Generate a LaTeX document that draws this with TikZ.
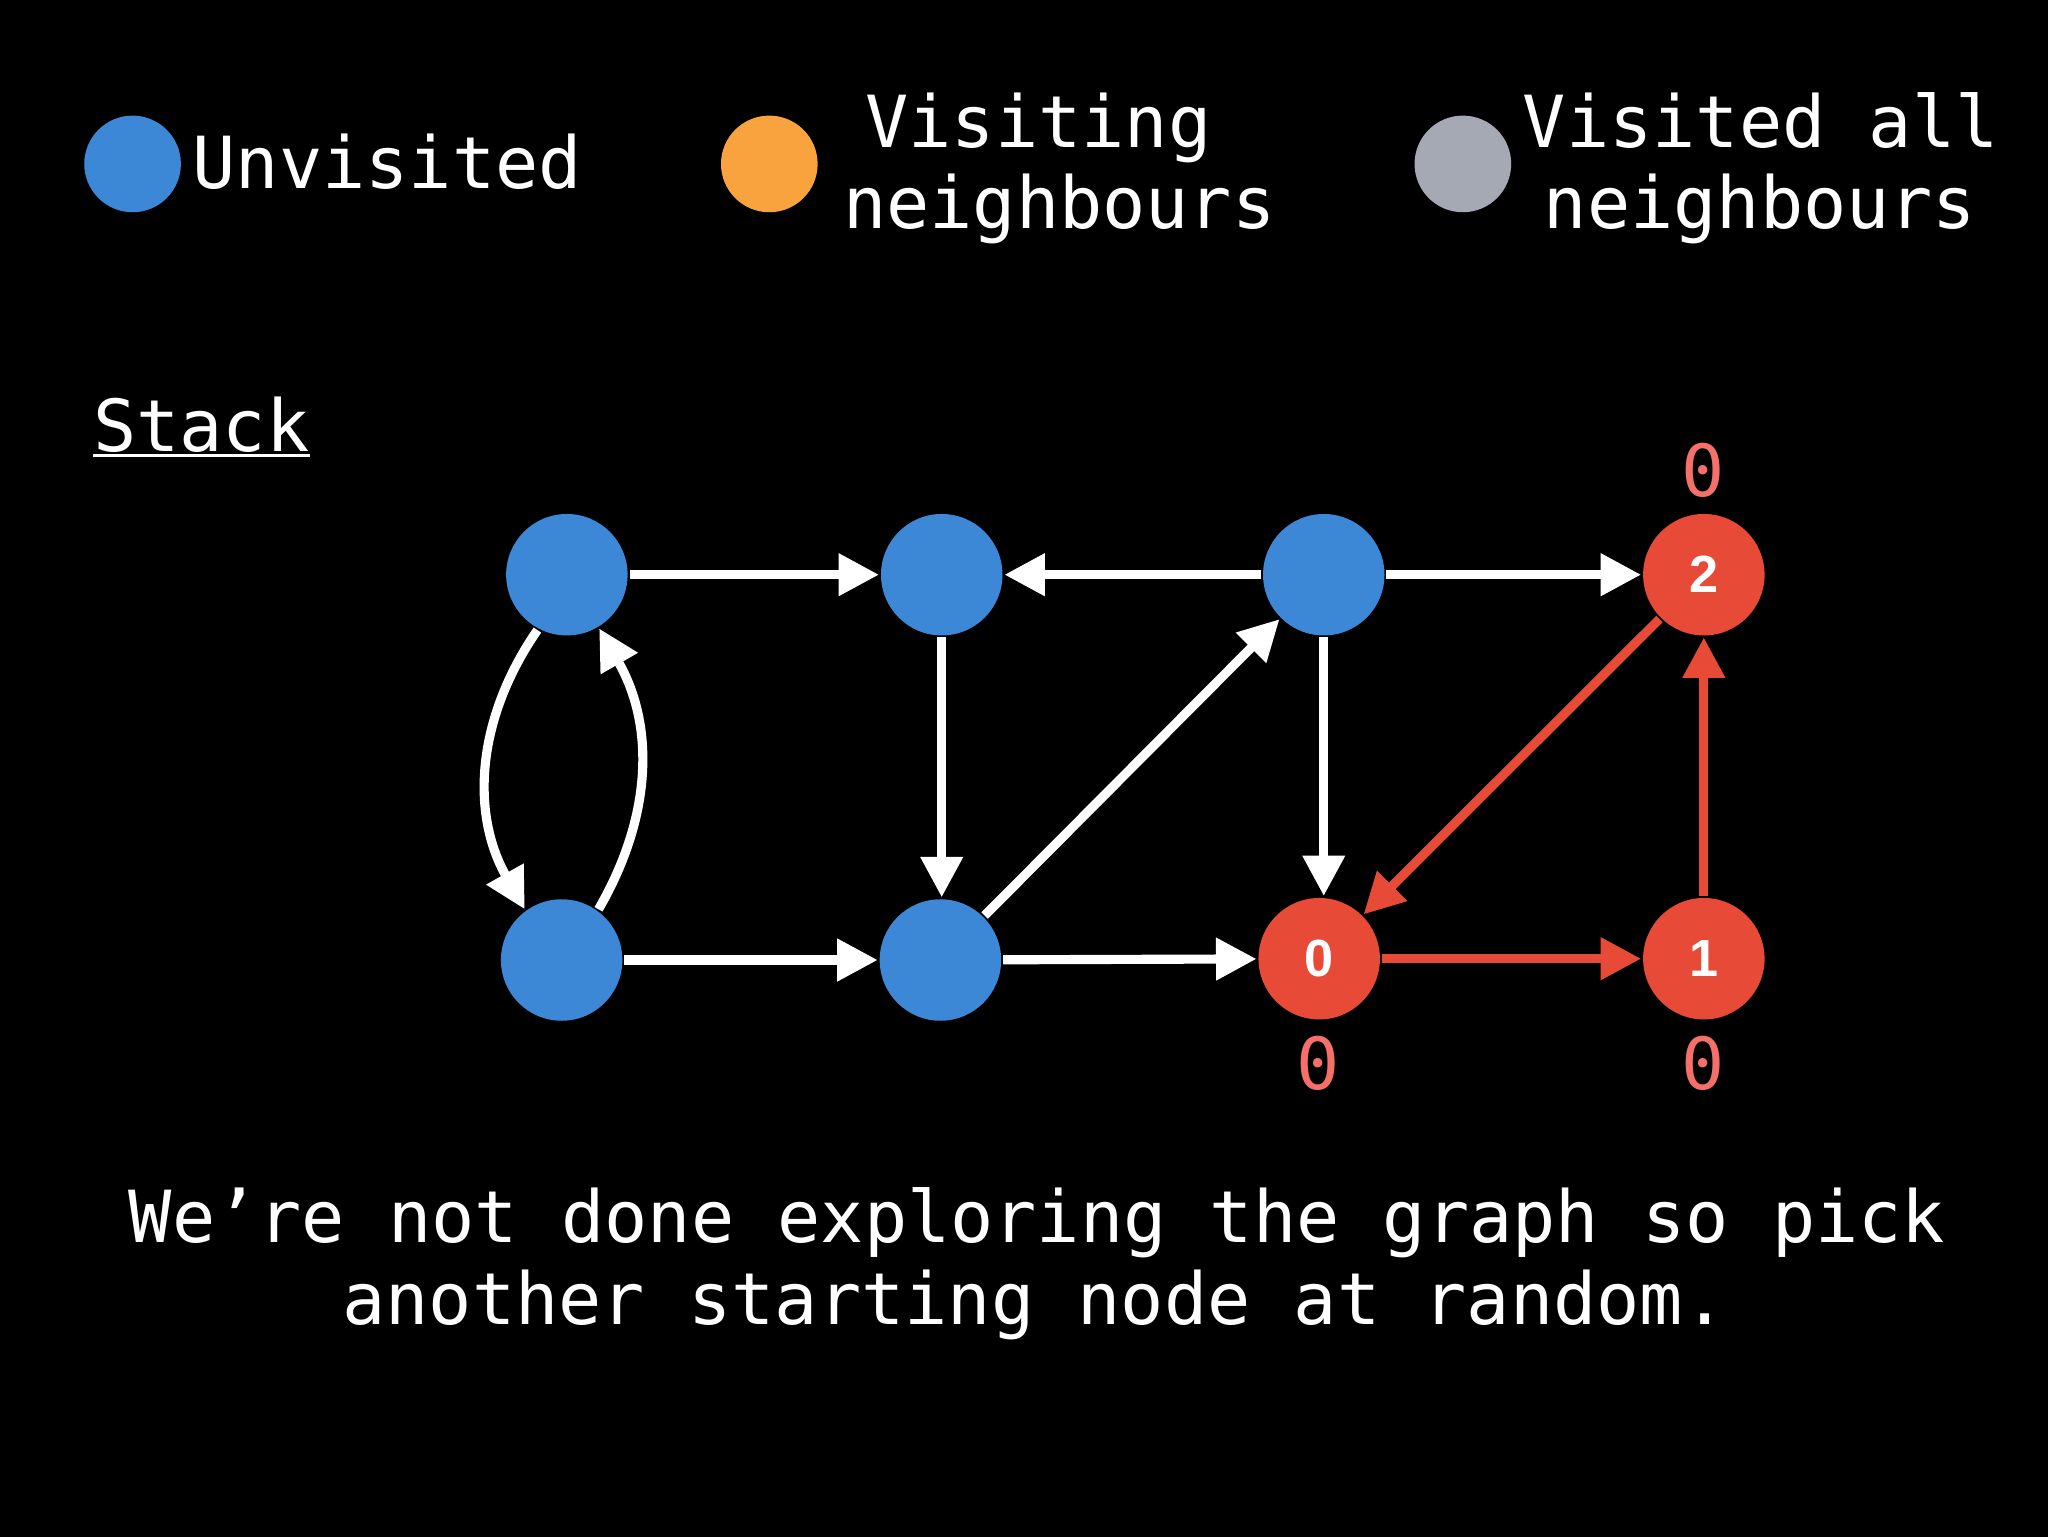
\documentclass[tikz,border=0pt]{standalone}
\usepackage{fontspec}
\setmonofont{DejaVu Sans Mono}
\newfontfamily\zmono{DejaVu Sans Mono}[RawFeature=+zero]
\newfontfamily\hv{Liberation Sans}
\usetikzlibrary{arrows.meta}
\definecolor{nblue}{HTML}{3C87D6}
\definecolor{norange}{HTML}{F9A33F}
\definecolor{ngray}{HTML}{A4A9B4}
\definecolor{nred}{HTML}{E84A38}
\definecolor{nsalmon}{HTML}{F47068}
\begin{document}
\begin{tikzpicture}[x=1pt,y=1pt,
  vert/.style={circle,minimum size=93pt,inner sep=0pt,outer sep=1.5pt,fill=nblue},
  redv/.style={vert,fill=nred,text=white,font=\hv\bfseries\fontsize{40}{40}\selectfont},
  leg/.style={circle,minimum size=74pt,inner sep=0pt},
  txt/.style={inner sep=0pt,text=white,font=\ttfamily\fontsize{55}{62}\selectfont},
  cnt/.style={inner sep=0pt,text=nsalmon,font=\zmono\fontsize{55}{62}\selectfont},
  edge/.style={draw=white,line width=7pt,-{Triangle[length=31pt,width=31pt]}},
  redge/.style={edge,draw=nred},
]
\useasboundingbox (0,0) rectangle (1568,-1176);
\fill[black] (-6,6) rectangle (1574,-1182);

% legend
\node[leg,fill=nblue] (lb) at (101.5,-125.5) {};
\node[txt,anchor=base] (lt1) at (296.5,-144) {Unvisited};
\node[leg,fill=norange] (lo) at (589,-125.5) {};
\node[txt,anchor=base] (lt2a) at (795,-113) {Visiting};
\node[txt,anchor=base] (lt2b) at (811,-175) {neighbours};
\node[leg,fill=ngray] (lg) at (1120,-125.5) {};
\node[txt,anchor=base] (lt3a) at (1348,-113) {Visited all};
\node[txt,anchor=base] (lt3b) at (1347.5,-175) {neighbours};

% stack
\node[txt,anchor=base] (stack) at (154,-346) {Stack};
\draw[white,line width=2pt] ([yshift=-2.5pt]stack.base west) -- ([yshift=-2.5pt]stack.base east);

% graph nodes
\node[vert] (a) at (434,-440) {};
\node[vert] (b) at (721,-440) {};
\node[vert] (c) at (1013.5,-440) {};
\node[redv] (n2) at (1304.5,-440) {2};
\node[vert] (d) at (430,-735) {};
\node[vert] (e) at (720,-735) {};
\node[redv] (n0) at (1010,-734) {0};
\node[redv] (n1) at (1304.5,-734) {1};

% counters
\node[cnt] (l2) at (1304,-360) {0};
\node[cnt] (l0) at (1009,-814) {0};
\node[cnt] (l1) at (1304,-814) {0};

% edges
\draw[edge] (a) -- (b);
\draw[edge] (c) -- (b);
\draw[edge] (c) -- (n2);
\draw[edge] (b) -- (b |- e.north);
\draw[edge] (e) -- (c);
\draw[edge] (c) -- (c |- n0.north);
\draw[edge] (d) -- (e);
\draw[edge] (e) -- (n0);
\draw[redge] (n0) -- (n1);
\draw[redge] (n1) -- (n2);
\draw[redge] (n2) -- (n0);
\draw[edge] (a.-118) to[bend right=32] (d.126);
\draw[edge] (d.54) to[bend right=30] (a.-59);

% caption
\node[txt,anchor=base] (cap1) at (794,-951.5) {We’re not done exploring the graph so pick};
\node[txt,anchor=base] (cap2) at (792,-1014) {another starting node at random.};
\end{tikzpicture}
\end{document}
